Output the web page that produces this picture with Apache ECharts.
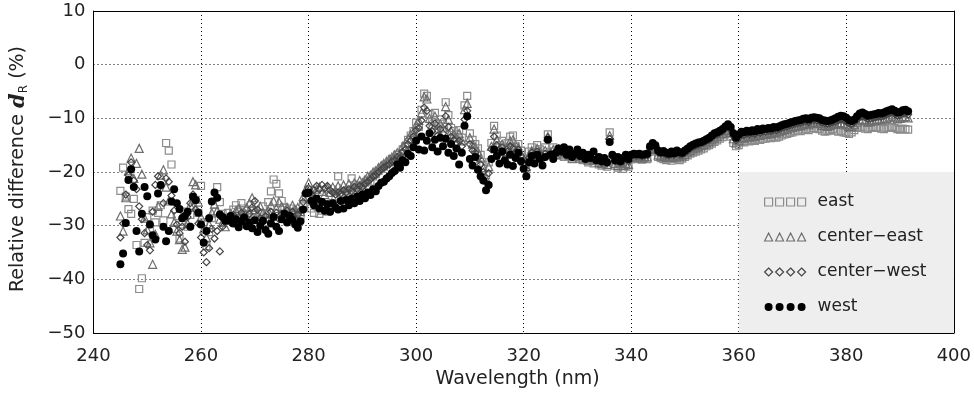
<!DOCTYPE html>
<html>
<head>
<meta charset="utf-8">
<title>Relative difference dR</title>
<script src="https://cdn.jsdelivr.net/npm/echarts@6/dist/echarts.min.js"></script>
<style>
  html, body { margin: 0; padding: 0; background: #fff; }
  #chart { width: 974px; height: 394px; }
</style>
</head>
<body>
<div id="chart"></div>
<script>
// wavelength grid: 245 nm onwards, one reading every 0.5 nm
var startWl = 245;
var stepWl = 0.5;

// relative difference dR (%), one row = 10 nm
var east = [
  -23.5,-19.2,-24.6,-26.9,-27.8,-25.0,-33.6,-41.8,-39.8,-33.2,-28.4,-31.0,-27.2,-29.4,-27.6,-26.2,-29.0,-14.6,-16.0,-18.6,
  -30.6,-28.2,-32.4,-29.8,-27.4,-30.2,-28.0,-26.6,-25.2,-27.6,-22.6,-29.4,-33.8,-31.2,-28.6,-27.4,-22.8,-25.6,-27.8,-28.6,
  -27.6,-28.4,-27.0,-26.2,-27.4,-25.8,-26.8,-27.8,-28.4,-27.2,-28.0,-28.8,-27.6,-26.4,-27.8,-25.6,-23.6,-21.4,-22.2,-24.0,
  -25.4,-26.6,-27.2,-26.8,-27.6,-28.0,-27.4,-28.2,-26.4,-24.8,-25.2,-26.8,-27.6,-26.4,-27.8,-27.2,-26.0,-27.4,-26.6,-25.8,
  -25.0,-20.8,-24.6,-24.0,-23.6,-24.2,-21.2,-23.4,-22.8,-23.2,-22.4,-22.0,-21.6,-21.8,-20.8,-20.4,-19.8,-19.4,-19.0,-18.6,
  -18.2,-17.6,-17.8,-16.8,-17.2,-15.8,-15.2,-14.0,-13.2,-12.4,-10.8,-11.6,-8.4,-5.4,-5.8,-9.2,-10.6,-9.0,-11.4,-10.2,
  -11.0,-7.0,-9.4,-11.8,-12.4,-13.0,-12.2,-13.6,-7.6,-5.8,-12.8,-14.0,-14.8,-15.6,-16.8,-18.6,-20.6,-18.2,-14.6,-11.4,
  -13.2,-15.0,-14.2,-15.6,-14.6,-13.4,-13.2,-15.2,-14.8,-16.0,-17.6,-18.4,-16.2,-15.4,-16.4,-15.0,-15.8,-16.6,-15.4,-13.0,
  -16.2,-15.4,-16.8,-15.8,-16.6,-17.2,-16.4,-17.0,-17.6,-17.2,-16.8,-17.6,-17.8,-17.4,-18.2,-17.8,-18.4,-18.0,-18.6,-18.8,
  -18.4,-19.0,-12.6,-17.8,-18.8,-19.2,-18.6,-19.4,-18.8,-19.0,-17.6,-17.4,-17.6,-17.5,-17.7,-17.4,-17.6,-16.2,-15.6,-16.0,
  -17.2,-17.4,-17.6,-17.8,-17.5,-17.9,-17.6,-17.4,-17.8,-17.5,-17.2,-16.9,-16.6,-16.4,-16.2,-16.0,-15.8,-15.6,-15.2,-15.0,
  -14.7,-14.4,-14.1,-13.8,-13.5,-13.0,-12.8,-13.4,-14.6,-15.2,-15.0,-14.4,-14.5,-14.2,-14.3,-14.0,-14.2,-13.9,-14.0,-13.8,
  -13.8,-13.6,-13.7,-13.5,-13.6,-13.4,-13.2,-13.0,-12.9,-12.7,-12.6,-12.4,-12.3,-12.4,-12.1,-12.0,-12.2,-11.9,-11.8,-11.9,
  -12.0,-12.3,-12.5,-12.4,-12.2,-12.0,-12.3,-12.5,-12.4,-12.6,-12.7,-12.9,-12.6,-12.2,-11.8,-11.6,-11.7,-11.9,-12.0,-11.8,
  -11.6,-11.8,-11.7,-11.9,-12.0,-11.8,-11.7,-11.6,-11.8,-12.0,-12.1,-11.9,-12.0,-12.1
];
var centerEast = [
  -28.2,-31.0,-24.8,-19.8,-17.4,-21.2,-18.4,-15.6,-20.4,-28.6,-30.8,-33.2,-37.2,-31.6,-26.4,-20.6,-19.6,-22.8,-25.4,-27.8,
  -29.4,-31.0,-32.6,-34.4,-34.0,-29.6,-26.2,-21.8,-22.4,-25.6,-28.4,-30.6,-32.2,-29.8,-27.6,-26.0,-27.2,-28.8,-29.4,-30.2,
  -29.0,-27.8,-28.4,-27.2,-26.8,-28.0,-27.4,-26.6,-25.8,-24.8,-27.0,-27.8,-26.4,-27.6,-28.4,-27.2,-26.2,-25.4,-26.8,-25.6,
  -26.4,-27.4,-26.6,-27.8,-26.2,-27.0,-26.6,-27.4,-24.6,-23.2,-22.0,-23.6,-24.4,-23.2,-22.8,-23.6,-24.2,-23.0,-23.8,-22.8,
  -23.4,-22.6,-23.2,-22.4,-23.0,-22.2,-22.8,-22.0,-22.4,-21.6,-22.0,-21.4,-20.8,-20.6,-20.0,-19.8,-19.2,-18.8,-18.4,-18.0,
  -17.6,-17.2,-16.8,-16.4,-16.6,-15.2,-14.6,-13.8,-13.0,-12.6,-11.2,-10.4,-9.0,-6.0,-6.4,-10.0,-11.2,-9.6,-12.0,-11.0,
  -11.8,-7.8,-10.2,-12.4,-13.0,-13.6,-12.8,-14.2,-8.4,-7.2,-13.6,-14.8,-15.4,-16.2,-17.4,-19.2,-21.2,-19.0,-15.2,-12.0,
  -14.0,-15.6,-14.8,-16.2,-15.2,-14.2,-14.0,-15.8,-15.4,-16.6,-18.0,-19.0,-16.8,-16.0,-16.8,-15.6,-16.2,-17.0,-16.0,-13.4,
  -16.4,-15.8,-16.8,-15.8,-16.4,-16.8,-16.2,-16.8,-17.4,-16.8,-16.6,-17.2,-17.4,-17.0,-17.8,-17.4,-17.8,-17.6,-18.2,-18.4,
  -18.0,-18.6,-13.2,-17.4,-18.4,-18.8,-18.2,-18.8,-18.4,-18.6,-17.3,-17.1,-17.3,-17.2,-17.4,-17.1,-17.2,-15.8,-15.2,-15.6,
  -16.8,-17.0,-17.1,-17.3,-17.1,-17.3,-17.1,-16.9,-17.2,-17.0,-16.7,-16.3,-16.0,-15.7,-15.5,-15.3,-15.1,-14.9,-14.6,-14.4,
  -14.0,-13.7,-13.4,-13.1,-12.8,-12.3,-12.0,-12.6,-13.8,-14.6,-14.2,-13.6,-13.7,-13.4,-13.5,-13.2,-13.4,-13.1,-13.2,-13.0,
  -13.0,-12.8,-12.9,-12.6,-12.7,-12.5,-12.3,-12.1,-12.0,-11.8,-11.7,-11.5,-11.4,-11.4,-11.2,-11.0,-11.2,-10.9,-10.8,-10.9,
  -11.0,-11.3,-11.4,-11.5,-11.3,-11.1,-11.1,-11.0,-10.8,-11.0,-11.2,-11.5,-11.6,-11.2,-10.7,-10.3,-10.2,-10.4,-10.7,-10.6,
  -10.5,-10.4,-10.2,-10.3,-10.1,-10.0,-9.8,-9.6,-9.8,-10.1,-10.0,-9.8,-9.7,-9.9
];
var centerWest = [
  -32.2,-29.6,-24.2,-20.6,-18.2,-21.6,-23.2,-26.4,-28.8,-31.4,-33.6,-34.6,-27.4,-22.4,-20.8,-22.6,-25.8,-21.2,-21.8,-24.4,
  -27.2,-29.8,-31.4,-30.2,-33.0,-28.4,-25.8,-24.2,-27.0,-29.6,-32.2,-35.0,-36.8,-34.2,-30.6,-32.4,-31.0,-34.8,-30.2,-29.0,
  -28.6,-29.4,-28.0,-28.8,-29.2,-27.6,-28.4,-29.0,-27.8,-26.6,-25.4,-27.0,-28.6,-29.4,-28.2,-29.0,-27.4,-28.2,-27.6,-28.8,
  -27.8,-28.4,-27.2,-28.0,-27.4,-28.6,-28.0,-27.2,-25.6,-23.8,-23.0,-24.2,-23.4,-22.6,-23.2,-22.4,-23.0,-22.6,-23.4,-23.8,
  -24.2,-23.8,-24.0,-23.4,-23.8,-23.2,-23.6,-22.8,-23.2,-22.6,-22.8,-22.2,-21.8,-21.4,-20.8,-20.6,-20.0,-19.6,-19.2,-18.8,
  -18.6,-18.0,-17.8,-17.2,-17.4,-16.2,-15.8,-14.8,-14.2,-13.4,-12.2,-11.8,-10.4,-8.0,-8.6,-11.4,-12.4,-11.0,-13.2,-12.0,
  -12.8,-9.6,-11.6,-13.4,-14.0,-14.6,-14.2,-15.2,-10.2,-8.6,-14.8,-16.0,-16.4,-17.4,-18.6,-20.0,-22.0,-20.2,-15.8,-13.4,
  -15.0,-16.4,-15.4,-16.8,-16.2,-15.2,-15.6,-16.4,-15.8,-17.0,-18.4,-19.6,-17.4,-16.4,-17.4,-16.2,-16.8,-17.6,-16.6,-13.6,
  -16.6,-16.8,-16.4,-15.6,-16.2,-16.0,-16.4,-16.2,-17.2,-16.6,-16.2,-17.0,-16.8,-17.2,-17.2,-17.4,-17.0,-17.6,-17.6,-18.2,
  -17.6,-18.4,-13.8,-17.0,-18.0,-18.0,-18.2,-18.0,-17.6,-18.0,-17.0,-16.8,-17.0,-16.9,-17.1,-16.9,-16.9,-15.5,-14.9,-15.3,
  -16.4,-16.6,-16.5,-16.8,-16.9,-16.7,-16.8,-16.4,-16.7,-16.7,-16.4,-16.0,-15.6,-15.3,-15.1,-14.9,-14.7,-14.5,-14.2,-14.0,
  -13.6,-13.2,-13.0,-12.7,-12.4,-11.9,-11.5,-12.1,-13.3,-14.1,-13.6,-13.0,-13.1,-12.8,-13.0,-12.7,-12.9,-12.5,-12.7,-12.4,
  -12.5,-12.3,-12.4,-12.1,-12.2,-12.0,-11.8,-11.6,-11.5,-11.3,-11.2,-11.0,-10.9,-10.8,-10.6,-10.5,-10.7,-10.4,-10.3,-10.4,
  -10.5,-10.8,-10.9,-11.0,-10.9,-10.7,-10.6,-10.4,-10.2,-10.3,-10.6,-10.9,-11.1,-10.7,-10.2,-9.8,-9.6,-9.8,-10.1,-10.0,
  -9.9,-9.8,-9.6,-9.7,-9.5,-9.3,-9.1,-8.9,-9.2,-9.5,-9.4,-9.1,-9.0,-9.3
];
var west = [
  -37.2,-35.2,-29.5,-21.5,-19.5,-22.8,-31.0,-34.8,-27.8,-22.8,-24.5,-29.8,-31.8,-32.6,-24.0,-22.4,-30.2,-32.9,-31.0,-25.5,
  -23.2,-25.8,-26.9,-28.6,-28.2,-27.4,-30.2,-24.6,-25.2,-27.6,-29.8,-33.2,-31.0,-28.6,-25.5,-23.8,-24.8,-27.9,-28.4,-29.1,
  -29.0,-28.2,-29.6,-28.8,-30.3,-29.2,-28.5,-30.1,-29.4,-30.5,-29.0,-31.2,-30.0,-29.1,-30.8,-31.5,-29.6,-28.4,-30.2,-31.0,
  -28.8,-27.8,-29.4,-28.2,-28.9,-29.8,-30.4,-29.2,-27.0,-24.0,-23.8,-25.4,-26.2,-25.0,-26.8,-25.6,-27.2,-26.0,-27.4,-25.8,
  -26.6,-27.0,-25.4,-26.8,-25.2,-26.2,-25.0,-25.8,-24.6,-25.4,-24.2,-24.9,-23.8,-24.3,-23.2,-23.6,-22.6,-22.0,-21.8,-21.2,
  -20.8,-20.2,-19.8,-18.6,-19.2,-17.8,-18.2,-16.6,-17.0,-15.4,-14.2,-15.8,-13.4,-16.0,-14.2,-12.8,-15.4,-14.0,-16.2,-13.6,
  -15.2,-13.8,-16.4,-14.8,-17.0,-15.6,-18.6,-16.4,-11.4,-9.6,-17.6,-18.8,-17.2,-19.6,-20.8,-21.6,-23.4,-22.4,-17.6,-15.8,
  -17.0,-18.4,-16.2,-17.8,-18.6,-16.8,-18.9,-17.4,-16.4,-18.0,-19.4,-20.8,-18.2,-17.0,-18.4,-16.8,-17.6,-18.8,-17.2,-14.0,
  -16.8,-17.6,-16.4,-15.6,-16.2,-15.4,-16.8,-15.8,-17.2,-16.6,-15.8,-17.0,-16.4,-17.6,-16.8,-17.4,-16.2,-17.8,-17.2,-18.0,
  -17.4,-18.2,-14.4,-16.8,-17.8,-17.2,-18.0,-17.4,-16.8,-17.6,-16.8,-16.6,-16.7,-16.6,-16.8,-16.7,-16.6,-15.2,-14.6,-15.0,
  -16.0,-16.3,-16.1,-16.4,-16.6,-16.2,-16.5,-16.0,-16.3,-16.4,-16.0,-15.6,-15.2,-14.9,-14.7,-14.5,-14.4,-14.2,-13.9,-13.6,
  -13.2,-12.8,-12.6,-12.3,-12.0,-11.5,-11.1,-11.6,-12.8,-13.6,-13.0,-12.5,-12.6,-12.3,-12.5,-12.2,-12.4,-12.0,-12.2,-11.9,
  -12.0,-11.8,-11.9,-11.6,-11.7,-11.5,-11.3,-11.1,-11.0,-10.8,-10.7,-10.5,-10.4,-10.3,-10.1,-10.0,-10.2,-9.9,-9.8,-9.9,
  -10.0,-10.3,-10.4,-10.5,-10.4,-10.2,-10.0,-9.7,-9.5,-9.6,-9.9,-10.3,-10.5,-10.2,-9.6,-9.1,-8.9,-9.2,-9.5,-9.4,
  -9.3,-9.2,-9.0,-9.1,-8.9,-8.7,-8.5,-8.3,-8.6,-8.9,-8.8,-8.5,-8.4,-8.7
];

var seriesNames = ['east', 'center\u2212east', 'center\u2212west', 'west'];

var FONT = 'DejaVu Sans';
var INK = '#222';

function pairs(vals) {
  return vals.map(function (v, i) {
    return [startWl + i * stepWl, v];
  });
}

function minus(v) {
  return String(v).replace('-', '\u2212');
}

// four little marks per legend row
var iconSquares = 'path://M0,0h8v8h-8z M11,0h8v8h-8z M22,0h8v8h-8z M33,0h8v8h-8z';
var iconTriangles = 'path://M0,8L4,0L8,8Z M11,8L15,0L19,8Z M22,8L26,0L30,8Z M33,8L37,0L41,8Z';
var iconDiamonds = 'path://M4,0L8,4L4,8L0,4Z M15,0L19,4L15,8L11,4Z M26,0L30,4L26,8L22,4Z M37,0L41,4L37,8L33,4Z';
var iconDots = 'path://M0,4a4,4 0 1,0 8,0a4,4 0 1,0 -8,0Z M11,4a4,4 0 1,0 8,0a4,4 0 1,0 -8,0Z M22,4a4,4 0 1,0 8,0a4,4 0 1,0 -8,0Z M33,4a4,4 0 1,0 8,0a4,4 0 1,0 -8,0Z';

var myChart = echarts.init(document.getElementById('chart'), null, { renderer: 'canvas' });

var option = {
  backgroundColor: '#fff',
  animation: false,
  grid: { left: 93, right: 19, top: 11, bottom: 60 },
  legend: {
    orient: 'vertical',
    left: 759,
    top: 188,
    itemWidth: 41,
    itemHeight: 8,
    itemGap: 17,
    selectedMode: false,
    textStyle: { fontFamily: FONT, fontSize: 17, color: INK, lineHeight: 18, padding: [0, 0, 0, 7] },
    data: [
      { name: seriesNames[0], icon: iconSquares, itemStyle: { color: 'transparent', borderColor: '#8c8c8c', borderWidth: 1.2 } },
      { name: seriesNames[1], icon: iconTriangles, itemStyle: { color: 'transparent', borderColor: '#6e6e6e', borderWidth: 1.2 } },
      { name: seriesNames[2], icon: iconDiamonds, itemStyle: { color: 'transparent', borderColor: '#444', borderWidth: 1.2 } },
      { name: seriesNames[3], icon: iconDots, itemStyle: { color: '#000', borderWidth: 0 } }
    ]
  },
  xAxis: [{
    type: 'value',
    min: 240,
    max: 400,
    interval: 20,
    name: 'Wavelength (nm)',
    nameLocation: 'middle',
    nameGap: 37,
    nameTextStyle: { fontFamily: FONT, fontSize: 19, color: INK, padding: [0, 12, 0, 0] },
    axisLine: { show: true, onZero: false, lineStyle: { color: '#000', width: 1 } },
    axisTick: { show: false },
    axisLabel: { fontFamily: FONT, fontSize: 18, color: INK, margin: 14 },
    splitLine: { show: true, lineStyle: { color: '#000', width: 1, type: [1, 3] } }
  }, {
    type: 'value',
    position: 'top',
    min: 240,
    max: 400,
    axisLine: { show: true, onZero: false, lineStyle: { color: '#000', width: 1 } },
    axisTick: { show: false },
    axisLabel: { show: false },
    splitLine: { show: false }
  }],
  yAxis: [{
    type: 'value',
    min: -50,
    max: 10,
    interval: 10,
    name: 'Relative difference {d|d}{r|R} (%)',
    nameLocation: 'middle',
    nameRotate: 90,
    nameGap: 64,
    nameTextStyle: {
      fontFamily: FONT, fontSize: 19, color: INK, padding: [0, 0, 0, 6],
      rich: {
        d: { fontFamily: 'DejaVu Serif', fontSize: 21, fontWeight: 'bold', fontStyle: 'italic', color: INK },
        r: { fontFamily: FONT, fontSize: 12, color: INK, verticalAlign: 'top', padding: [10, 0, 0, 0] }
      }
    },
    axisLine: { show: true, onZero: false, lineStyle: { color: '#000', width: 1 } },
    axisTick: { show: false },
    axisLabel: { fontFamily: FONT, fontSize: 18, color: INK, margin: 8, formatter: minus },
    splitLine: { show: true, lineStyle: { color: '#000', width: 1, type: [1, 3] } }
  }, {
    type: 'value',
    position: 'right',
    min: -50,
    max: 10,
    axisLine: { show: true, onZero: false, lineStyle: { color: '#000', width: 1 } },
    axisTick: { show: false },
    axisLabel: { show: false },
    splitLine: { show: false }
  }],
  series: [{
    name: seriesNames[0],
    type: 'scatter',
    symbol: 'rect',
    symbolSize: 7,
    itemStyle: { color: 'transparent', borderColor: '#8c8c8c', borderWidth: 1.2, opacity: 1 },
    data: pairs(east),
    markArea: {
      silent: true,
      itemStyle: { color: '#eeeeee', opacity: 1, borderWidth: 0 },
      data: [[{ coord: [360, -20] }, { coord: [400, -50] }]]
    }
  }, {
    name: seriesNames[1],
    type: 'scatter',
    symbol: 'triangle',
    symbolSize: 8,
    itemStyle: { color: 'transparent', borderColor: '#6e6e6e', borderWidth: 1.2, opacity: 1 },
    data: pairs(centerEast)
  }, {
    name: seriesNames[2],
    type: 'scatter',
    symbol: 'diamond',
    symbolSize: 7,
    itemStyle: { color: 'transparent', borderColor: '#444', borderWidth: 1.2, opacity: 1 },
    data: pairs(centerWest)
  }, {
    name: seriesNames[3],
    type: 'scatter',
    symbol: 'circle',
    symbolSize: 8,
    itemStyle: { color: '#000', opacity: 1 },
    data: pairs(west)
  }]
};

myChart.setOption(option);
</script>
</body>
</html>
